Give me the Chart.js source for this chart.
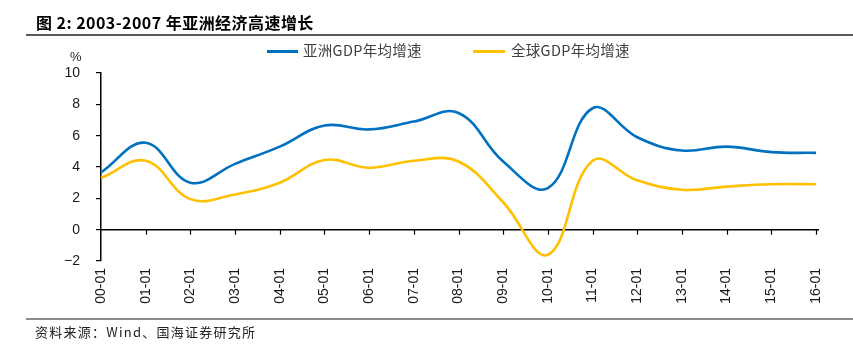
<!DOCTYPE html>
<html><head><meta charset="utf-8">
<script src="https://cdn.jsdelivr.net/npm/chart.js@4.4.1/dist/chart.umd.min.js"></script>
<style>
html,body{margin:0;padding:0;background:#fff;width:853px;height:348px;overflow:hidden;}
#wrap{position:relative;width:853px;height:348px;}
canvas{position:absolute;left:0;top:0;}
.t{position:absolute;white-space:nowrap;line-height:1;}
.lg{position:absolute;height:3px;}
</style></head><body>
<div id="wrap">
<canvas id="c" width="853" height="348"></canvas>
<div class="t" style="left:36px;top:14px;font-weight:bold;font-size:16px;font-family:'Noto Sans CJK SC';color:#000;letter-spacing:0.45px;">图 2: 2003-2007 年亚洲经济高速增长</div>
<div style="position:absolute;left:26px;top:34px;width:827px;height:2px;background:#595959"></div>
<div class="lg" style="left:267px;top:50px;width:31px;background:#0070C0"></div>
<div class="t" style="left:303px;top:43px;font-size:14.5px;font-family:'Noto Sans CJK SC';color:#404040;letter-spacing:0.3px;">亚洲GDP年均增速</div>
<div class="lg" style="left:473px;top:50px;width:32px;background:#FFC000"></div>
<div class="t" style="left:511px;top:43px;font-size:14.5px;font-family:'Noto Sans CJK SC';color:#404040;letter-spacing:0.3px;">全球GDP年均增速</div>
<div class="t" style="left:70px;top:50px;font-size:13px;font-family:'Liberation Sans';color:#222;">%</div>
<div style="position:absolute;left:26px;top:318px;width:827px;height:2px;background:#8c8c8c"></div>
<div class="t" style="left:35px;top:325px;font-size:13px;font-family:'Noto Sans CJK SC';color:#222;letter-spacing:1.25px;">资料来源：Wind、国海证券研究所</div>
</div>
<script>
const categories = ["00-01","01-01","02-01","03-01","04-01","05-01","06-01","07-01","08-01","09-01","10-01","11-01","12-01","13-01","14-01","15-01","16-01"];
const asiaGDP = [3.65, 5.55, 3.0, 4.2, 5.3, 6.65, 6.4, 6.9, 7.45, 4.35, 2.65, 7.75, 5.9, 5.05, 5.3, 4.95, 4.9];
const worldGDP = [3.3, 4.4, 1.95, 2.25, 3.0, 4.45, 3.95, 4.4, 4.35, 1.75, -1.6, 4.4, 3.15, 2.55, 2.75, 2.9, 2.9];
const yTicks = [-2, 0, 2, 4, 6, 8, 10];
const seriesNames = ["亚洲GDP年均增速", "全球GDP年均增速"];

const zeroAxis = {
  id: 'zeroAxis',
  beforeDatasetsDraw(chart) {
    const {ctx, scales: {x, y}} = chart;
    const y0 = y.getPixelForValue(0);
    ctx.save();
    ctx.strokeStyle = '#000';
    ctx.lineWidth = 1.5;
    ctx.beginPath();
    ctx.moveTo(chart.chartArea.left, y0);
    ctx.lineTo(x.getPixelForTick(categories.length - 1) + 3, y0);
    ctx.stroke();
    ctx.lineWidth = 1.2;
    for (let i = 1; i < categories.length; i++) {
      const px = Math.round(x.getPixelForTick(i)) + 0.5;
      ctx.beginPath();
      ctx.moveTo(px, y0);
      ctx.lineTo(px, y0 + 5);
      ctx.stroke();
    }
    ctx.restore();
  }
};

new Chart(document.getElementById('c'), {
  type: 'line',
  data: {
    labels: categories,
    datasets: [
      {label: seriesNames[0], data: asiaGDP, borderColor: '#0070C0', borderWidth: 2.6, pointRadius: 0, tension: 0.4, fill: false},
      {label: seriesNames[1], data: worldGDP, borderColor: '#FFC000', borderWidth: 2.6, pointRadius: 0, tension: 0.4, fill: false}
    ]
  },
  options: {
    responsive: false,
    animation: false,
    devicePixelRatio: 1,
    layout: {padding: {left: 0, top: 73, right: 37, bottom: 37}},
    plugins: {legend: {display: false}, tooltip: {enabled: false}},
    scales: {
      x: {
        offset: false,
        grid: {display: false, drawTicks: false},
        border: {display: false},
        ticks: {minRotation: 90, maxRotation: 90, autoSkip: false, padding: 7, color: '#1a1a1a', font: {family: 'Liberation Sans', size: 14}},
        afterFit: s => { s.height = 50; }
      },
      y: {
        min: -2, max: 10,
        afterBuildTicks: s => { s.ticks = yTicks.map(v => ({value: v})); },
        grid: {drawOnChartArea: false, drawTicks: true, tickLength: 5, color: '#000', lineWidth: 1.2},
        border: {display: true, color: '#000', width: 1.5},
        ticks: {padding: 16, color: '#1a1a1a', font: {family: 'Liberation Sans', size: 14},
          callback: v => (v < 0 ? '\u2212' + Math.abs(v) : String(v))},
        afterFit: s => { s.width = 101; }
      }
    }
  },
  plugins: [zeroAxis]
});
</script>
</body></html>
